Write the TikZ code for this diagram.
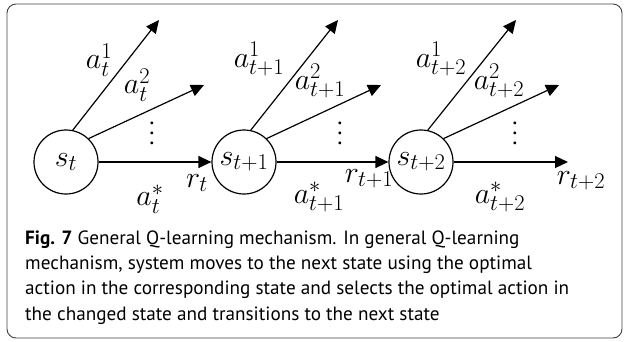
\RequirePackage{fix-cm}
\documentclass[tikz,border=0pt]{standalone}
\usepackage{fontspec}
\setmainfont{PT Sans}
\usetikzlibrary{arrows.meta}
% bigger scripts for the large math labels
\DeclareMathSizes{30}{30}{22.5}{17}
\newcommand{\bigvdots}{\vbox{\baselineskip=10pt\lineskiplimit=0pt
  \hbox{.}\hbox{.}\hbox{.}}}
\tikzset{
  state/.style={circle, draw, line width=1.2pt, minimum size=64pt, inner sep=0pt,
    font=\fontsize{30}{34}\selectfont},
  act/.style={-{Triangle[length=13pt,width=12pt]}, line width=1.2pt},
  lbl/.style={inner sep=0pt, font=\fontsize{30}{34}\selectfont},
  dots/.style={inner sep=0pt, font=\fontsize{24}{10}\selectfont},
  frame/.style={draw, line width=0.9pt, rounded corners=9pt, color=black!75},
}
\begin{document}
\begin{tikzpicture}[x=1pt,y=-1pt]
\useasboundingbox (0,0) rectangle (625,341);
\draw[frame] (7,4) rectangle (622,338);

% states
\node[state] (s0) at (66,162) {$s_t$};
\node[state] (s1) at (244,162) {$s_{t+1}$};
\node[state] (s2) at (421,162) {$s_{t+2}$};

% free ends of the actions
\coordinate (e01) at (159,20);
\coordinate (e02) at (204,85);
\coordinate (e11) at (338,20);
\coordinate (e12) at (381,85);
\coordinate (e21) at (516,20);
\coordinate (e22) at (559,85);
\coordinate (e23) at (568,162);

% actions
\draw[act] (s0.78) -- (e01);
\draw[act] (s0.46) -- (e02);
\draw[act] (s0) -- (s1);
\draw[act] (s1.78) -- (e11);
\draw[act] (s1.46) -- (e12);
\draw[act] (s1) -- (s2);
\draw[act] (s2.78) -- (e21);
\draw[act] (s2.46) -- (e22);
\draw[act] (s2) -- (e23);

% vertical dots
\node[dots] (d0) at (152,133) {\bigvdots};
\node[dots] (d1) at (340,133) {\bigvdots};
\node[dots] (d2) at (515,133) {\bigvdots};

% action and reward labels
\node[lbl] (a01) at (99,60) {$a_t^1$};
\node[lbl] (a02) at (137,85) {$a_t^2$};
\node[lbl] (a0s) at (150,199) {$a_t^*$};
\node[lbl] (r0) at (197,183) {$r_t$};
\node[lbl] (a11) at (259,59) {$a_{t+1}^1$};
\node[lbl] (a12) at (320,81) {$a_{t+1}^2$};
\node[lbl] (a1s) at (319,197) {$a_{t+1}^*$};
\node[lbl] (r1) at (369,179) {$r_{t+1}$};
\node[lbl] (a21) at (441,59) {$a_{t+2}^1$};
\node[lbl] (a22) at (499,81) {$a_{t+2}^2$};
\node[lbl] (a2s) at (500,197) {$a_{t+2}^*$};
\node[lbl] (r2) at (581,181) {$r_{t+2}$};

% caption (anchored at the baseline of its last line)
\node[anchor=base west, align=left, inner sep=0pt,
      font=\fontsize{19.2}{25.3}\selectfont] (cap) at (25,320)
  {\textbf{Fig. 7} General Q-learning mechanism. In general Q-learning\\
   mechanism, system moves to the next state using the optimal\\
   action in the corresponding state and selects the optimal action in\\
   the changed state and transitions to the next state};
\end{tikzpicture}
\end{document}
